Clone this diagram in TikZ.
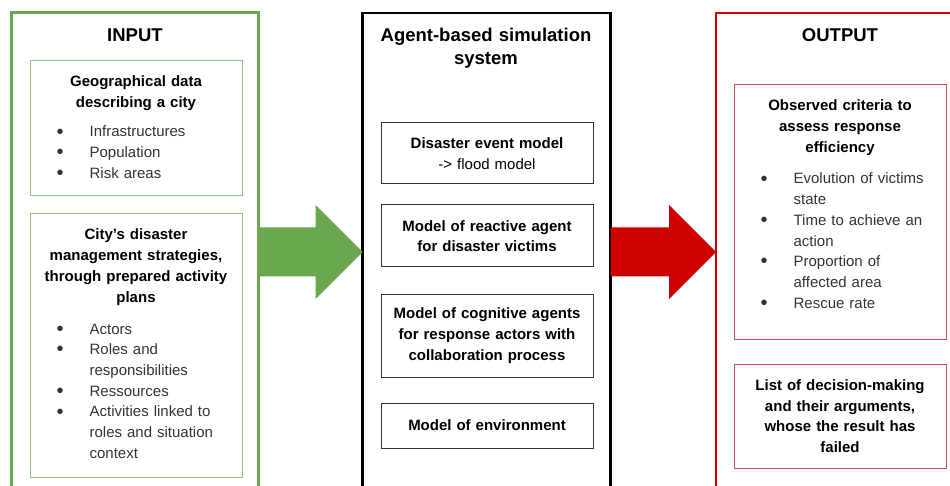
\documentclass[tikz,border=0pt]{standalone}
\usepackage{fontspec}
\setmainfont{Liberation Sans}
\usetikzlibrary{positioning}
\definecolor{ingreen}{HTML}{6AA84F}
\definecolor{ingreenlight}{HTML}{93C47D}
\definecolor{outred}{HTML}{CC0000}
\definecolor{outredlight}{HTML}{C95050}
\definecolor{bodytext}{HTML}{333333}
\newcommand{\itm}[1]{\makebox[33pt][l]{\raisebox{-1.2pt}{\fontsize{20}{20}\selectfont\textbullet}}#1}
\newcommand{\cnt}[1]{\hspace*{33pt}#1}

\begin{document}
\begin{tikzpicture}[
		x=1pt, y=1pt,
		column/.style={draw, line width=2.5pt, anchor=north west, minimum width=248, minimum height=478, inner sep=0, outer sep=0},
		part/.style={draw, line width=1pt, anchor=north west, minimum width=212, inner sep=0, outer sep=0},
		model/.style={part, draw=black!80, anchor=north, text width=206, align=center, font=\fontsize{15}{20.7}\selectfont},
		title/.style={font=\bfseries\fontsize{18.5}{23}\selectfont, text width=240, align=center, anchor=base, inner sep=0},
		head/.style={font=\bfseries\fontsize{15}{20.7}\selectfont, text width=212, align=center, anchor=base, inner sep=0},
		items/.style={font=\fontsize{15}{20.7}\selectfont, text width=185, align=left, anchor=base west, inner sep=0, text=bodytext}
		]
		
		\useasboundingbox (0,0) rectangle (950,-486);
		\clip (0,0) rectangle (950,-486);
		
		% three columns
		\node[column, draw=ingreen, line width=3pt, minimum width=247.5] (input) at (11,-13) {};
		\node[column, draw=black] (sim) at (362.5,-13) {};
		\node[column, draw=outred] (output) at (716,-13) {};
		
		% input parts
		\node[part, draw=ingreenlight, minimum height=135] (geo) at (30,-61) {};
		\node[part, draw=ingreenlight, minimum height=263, below=18 of geo.south west, anchor=north west] (plans) {};
		
		% simulation models
		\node[model, minimum height=61] (flood) at (487,-123) {\textbf{Disaster event model}\\-> flood model};
		\node[model, minimum height=62, below=21 of flood] (victims) {\textbf{Model of reactive agent}\\\textbf{for disaster victims}};
		\node[model, minimum height=83, below=27 of victims] (actors) {\textbf{Model of cognitive agents}\\\textbf{for response actors with}\\\textbf{collaboration process}};
		\node[model, minimum height=45, below=26 of actors] (env) {\textbf{Model of environment}};
		
		% output parts
		\node[part, draw=outredlight, minimum height=254] (criteria) at (734,-85) {};
		\node[part, draw=outredlight, minimum height=104, below=25 of criteria.south west, anchor=north west, text width=206, align=center, font=\bfseries\fontsize{15}{20.7}\selectfont] (failed) {List of decision-making\\and their arguments,\\whose the result has\\failed};
		
		% block arrows
		\fill[ingreen] ([yshift=24.5pt]input.east) -- ([xshift=-47pt,yshift=24.5pt]sim.west) -- ([xshift=-47pt,yshift=47pt]sim.west) -- (sim.west)
			-- ([xshift=-47pt,yshift=-47pt]sim.west) -- ([xshift=-47pt,yshift=-24.5pt]sim.west) -- ([yshift=-24.5pt]input.east) -- cycle;
		\fill[outred] ([yshift=24.5pt]sim.east) -- ([xshift=-47pt,yshift=24.5pt]output.west) -- ([xshift=-47pt,yshift=47pt]output.west) -- (output.west)
			-- ([xshift=-47pt,yshift=-47pt]output.west) -- ([xshift=-47pt,yshift=-24.5pt]output.west) -- ([yshift=-24.5pt]sim.east) -- cycle;
		
		% titles
		\node[title] (intitle) at (135,-41.6) {INPUT};
		\node[title] (simtitle) at (486,-41.6) {Agent-based simulation\\system};
		\node[title] (outtitle) at (840,-41.6) {OUTPUT};
		
		% input texts
		\node[head] (geohead) at (136,-87) {Geographical data\\describing a city};
		\node[items] (geolist) at (56.4,-137) {\itm{Infrastructures}\\\itm{Population}\\\itm{Risk areas}};
		\node[head] (planhead) at (136,-240) {City's disaster\\management strategies,\\through prepared activity\\plans};
		\node[items] (planlist) at (56.4,-334) {\itm{Actors}\\\itm{Roles and}\\\cnt{responsibilities}\\\itm{Ressources}\\\itm{Activities linked to}\\\cnt{roles and situation}\\\cnt{context}};
		
		% output texts
		\node[head] (crithead) at (840,-111) {Observed criteria to\\assess response\\efficiency};
		\node[items] (critlist) at (760.4,-184) {\itm{Evolution of victims}\\\cnt{state}\\\itm{Time to achieve an}\\\cnt{action}\\\itm{Proportion of}\\\cnt{affected area}\\\itm{Rescue rate}};
		
	\end{tikzpicture}
\end{document}
